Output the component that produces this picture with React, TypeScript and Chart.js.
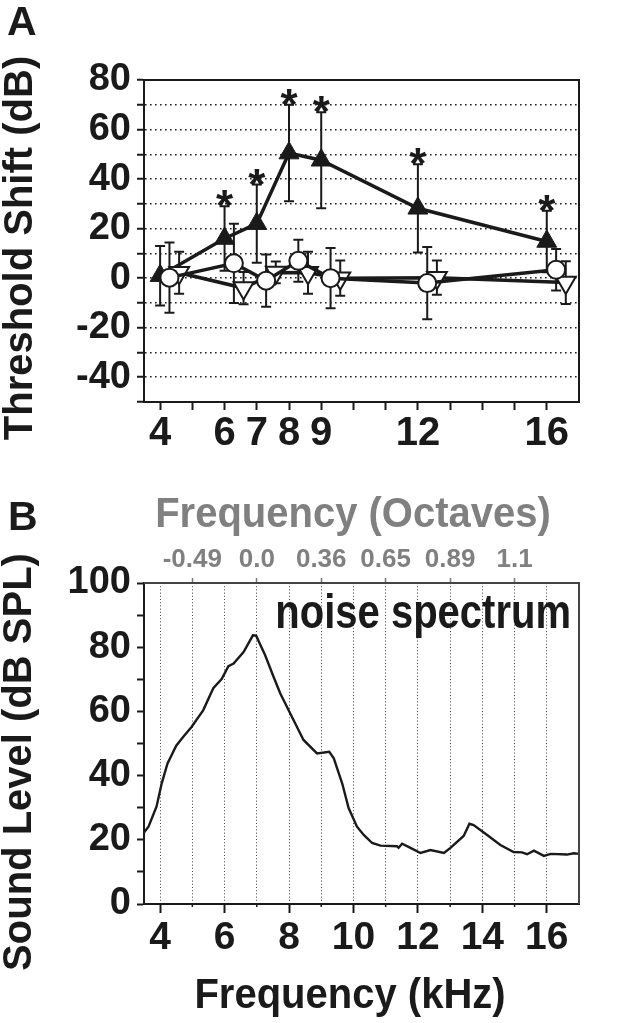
import React, { useEffect, useRef } from 'react';
import { Chart, registerables } from 'chart.js';

Chart.register(...registerables);

const FONT = '"Liberation Sans", Arial, Helvetica, sans-serif';
const INK = '#1a1a1a';
const GRAY = '#808080';

// ---------- Panel A: threshold shift ----------
const freqsA = [4, 6, 7, 8, 9, 12, 16];
const xTicksA = [4, 5, 6, 7, 8, 9, 10, 11, 12, 13, 14, 15, 16];
const xLabelsA = [4, 6, 7, 8, 9, 12, 16];
const yTicksA = [-50, -40, -30, -20, -10, 0, 10, 20, 30, 40, 50, 60, 70, 80];
const yLabelsA = [-40, -20, 0, 20, 40, 60, 80];

const shiftFilled = [1, 16, 22, 50.5, 47.6, 28.2, 14.8];
const errFilled = [12, 13, 15.8, 19.5, 19.4, 17.8, 12.4];
const significant = [false, true, true, true, true, true, true];

const shiftCircle = [0.2, 6, -1, 7, 0, -2, 3.4];
const errCircle = [14.2, 16, 10.5, 8.5, 12.2, 14.6, 8.4];

const shiftInv = [2.2, -4, 2.3, 2.2, 0, 0.2, -1.8];
const errInv = [8.5, 6.5, 4.4, 8.5, 7.1, 6.9, 8.6];

const offsetCircle = 0.29; // kHz display offset of open circles
const offsetInv = 0.59; // kHz display offset of open inverted triangles

// ---------- Panel B: noise spectrum ----------
const noiseFreq = [3.5, 3.64, 3.89, 4.05, 4.23, 4.5, 4.72, 4.98, 5.34, 5.65, 5.91, 6.12, 6.28, 6.59, 6.88, 6.98, 7.26, 7.52, 7.73, 8.14, 8.45, 8.87, 9.25, 9.39, 9.65, 9.85, 10.11, 10.32, 10.58, 10.84, 11.35, 11.4, 11.51, 11.77, 12.08, 12.39, 12.81, 13.01, 13.42, 13.6, 13.73, 14.15, 14.56, 14.97, 15.23, 15.39, 15.6, 15.91, 16.12, 16.63, 16.84, 17.0];
const noiseLevel = [22.3, 24.1, 30.4, 37.6, 43.8, 49.3, 52.1, 55.2, 60.4, 67.2, 70.1, 74.1, 74.9, 78.5, 83.7, 83.6, 77.5, 70.8, 65.6, 57.3, 51.1, 46.9, 47.4, 45.4, 37.6, 29.9, 24.1, 21.5, 19.0, 18.2, 18.0, 17.5, 18.8, 17.5, 15.9, 16.8, 15.9, 17.5, 21.2, 25.0, 24.6, 21.5, 18.4, 16.2, 16.1, 15.5, 16.6, 15.0, 15.6, 15.4, 15.8, 15.6];
const xTicksB = [4, 5, 6, 7, 8, 9, 10, 11, 12, 13, 14, 15, 16];
const xLabelsB = [4, 6, 8, 10, 12, 14, 16];
const octaveFreqs = [5, 7, 9, 11, 13, 15];
const octaveLabels = ['-0.49', '0.0', '0.36', '0.65', '0.89', '1.1'];
const yTicksB = [0, 10, 20, 30, 40, 50, 60, 70, 80, 90, 100];
const yLabelsB = [0, 20, 40, 60, 80, 100];

type TextItem = {
  text: string; x: number; y: number; size: number; color: string;
  align: CanvasTextAlign; baseline: CanvasTextBaseline; rotate?: number; sy?: number;
};

function textPlugin(id: string, items: TextItem[]) {
  return {
    id,
    afterDraw(chart: any) {
      const ctx = chart.ctx as CanvasRenderingContext2D;
      items.forEach((t) => {
        ctx.save();
        ctx.font = `bold ${t.size}px ${FONT}`;
        ctx.fillStyle = t.color;
        ctx.textAlign = t.align;
        ctx.textBaseline = t.baseline;
        ctx.translate(t.x, t.y);
        if (t.rotate) ctx.rotate(t.rotate);
        if (t.sy) ctx.scale(1, t.sy);
        ctx.fillText(t.text, 0, 0);
        ctx.restore();
      });
    },
  };
}

function boxPlugin(id: string, color: string) {
  return {
    id,
    afterDraw(chart: any) {
      const { ctx, chartArea } = chart;
      ctx.save();
      ctx.strokeStyle = color;
      ctx.lineWidth = 2;
      ctx.beginPath();
      ctx.moveTo(chartArea.left, chartArea.top);
      ctx.lineTo(chartArea.right, chartArea.top);
      ctx.lineTo(chartArea.right, chartArea.bottom);
      ctx.stroke();
      ctx.restore();
    },
  };
}

const setTicks = (vals: number[]) => (axis: any) => {
  axis.ticks = vals.map((v) => ({ value: v }));
};

function makeConfigA(): any {
  const errSeries = [
    { off: 0, y: shiftFilled, err: errFilled },
    { off: offsetInv, y: shiftInv, err: errInv },
    { off: offsetCircle, y: shiftCircle, err: errCircle },
  ];
  const errorBars = {
    id: 'errorBarsA',
    beforeDatasetsDraw(chart: any) {
      const { ctx } = chart;
      const xs = chart.scales.x;
      const ys = chart.scales.y;
      const cap = 5;
      ctx.save();
      ctx.strokeStyle = INK;
      ctx.lineWidth = 2;
      errSeries.forEach((s) => {
        freqsA.forEach((f, i) => {
          const px = xs.getPixelForValue(f + s.off);
          const top = ys.getPixelForValue(s.y[i] + s.err[i]);
          const bot = ys.getPixelForValue(s.y[i] - s.err[i]);
          ctx.beginPath();
          ctx.moveTo(px, top);
          ctx.lineTo(px, bot);
          ctx.moveTo(px - cap, top);
          ctx.lineTo(px + cap, top);
          ctx.moveTo(px - cap, bot);
          ctx.lineTo(px + cap, bot);
          ctx.stroke();
        });
      });
      ctx.restore();
    },
  };
  const asterisks = {
    id: 'asterisksA',
    afterDatasetsDraw(chart: any) {
      const { ctx } = chart;
      const xs = chart.scales.x;
      const ys = chart.scales.y;
      ctx.save();
      ctx.font = `bold 44px ${FONT}`;
      ctx.fillStyle = INK;
      ctx.textAlign = 'center';
      ctx.textBaseline = 'alphabetic';
      freqsA.forEach((f, i) => {
        if (!significant[i]) return;
        const px = xs.getPixelForValue(f);
        const top = ys.getPixelForValue(shiftFilled[i] + errFilled[i]);
        ctx.fillText('*', px, top - 10 + 25);
      });
      ctx.restore();
    },
  };
  const texts = textPlugin('textsA', [
    { text: 'A', x: 7, y: 35, size: 41, color: INK, align: 'left', baseline: 'alphabetic' },
    { text: 'Threshold Shift (dB)', x: 21, y: 248, size: 40, color: INK, align: 'center', baseline: 'middle', rotate: -Math.PI / 2 },
  ]);

  return {
    type: 'line',
    data: {
      datasets: [
        {
          label: 'open circles',
          data: freqsA.map((f, i) => ({ x: f + offsetCircle, y: shiftCircle[i] })),
          borderColor: INK, borderWidth: 3.5, tension: 0, fill: false,
          pointStyle: 'circle', pointRadius: 9, pointBackgroundColor: '#ffffff',
          pointBorderColor: INK, pointBorderWidth: 2, clip: false,
        },
        {
          label: 'open inverted triangles',
          data: freqsA.map((f, i) => ({ x: f + offsetInv, y: shiftInv[i] })),
          borderColor: INK, borderWidth: 3.5, tension: 0, fill: false,
          pointStyle: 'triangle', pointRotation: 180, pointRadius: 11.5,
          pointBackgroundColor: '#ffffff', pointBorderColor: INK, pointBorderWidth: 2, clip: false,
        },
        {
          label: 'filled triangles',
          data: freqsA.map((f, i) => ({ x: f, y: shiftFilled[i] })),
          borderColor: INK, borderWidth: 3.5, tension: 0, fill: false,
          pointStyle: 'triangle', pointRadius: 11.5, pointBackgroundColor: INK,
          pointBorderColor: INK, pointBorderWidth: 1, clip: false,
        },
      ],
    },
    options: {
      animation: false,
      responsive: false,
      maintainAspectRatio: false,
      layout: { padding: { top: 80, right: 51, left: 0, bottom: 0 } },
      plugins: { legend: { display: false }, tooltip: { enabled: false }, title: { display: false } },
      scales: {
        x: {
          type: 'linear', min: 3.5, max: 17,
          afterBuildTicks: setTicks(xTicksA),
          afterFit: (axis: any) => { axis.height = 68; },
          ticks: {
            autoSkip: false, maxRotation: 0, minRotation: 0, padding: 0,
            color: INK, font: { family: FONT, size: 40, weight: 'bold' },
            callback: (v: number) => (xLabelsA.includes(v) ? String(v) : ''),
          },
          grid: { drawOnChartArea: false, drawTicks: true, tickLength: 8, tickWidth: 2, tickColor: INK },
          border: { color: INK, width: 2 },
        },
        y: {
          type: 'linear', min: -50, max: 80,
          afterBuildTicks: setTicks(yTicksA),
          afterFit: (axis: any) => { axis.width = 144; },
          ticks: {
            autoSkip: false, padding: 6, color: INK,
            font: { family: FONT, size: 38, weight: 'bold' },
            callback: (v: number) => (yLabelsA.includes(v) ? String(v) : ''),
          },
          grid: {
            drawOnChartArea: true,
            color: (c: any) => (c.tick && (c.tick.value === -50 || c.tick.value === 80) ? 'rgba(0,0,0,0)' : '#222222'),
            lineWidth: 1.5,
            tickLength: 7, tickWidth: 2, tickColor: INK, tickBorderDash: [],
          },
          border: { color: INK, width: 2, dash: [1.6, 3.4] },
        },
      },
    },
    plugins: [errorBars, asterisks, texts, boxPlugin('boxA', INK)],
  };
}

function makeConfigB(): any {
  const minorTicks = {
    id: 'minorTicksB',
    afterDraw(chart: any) {
      const { ctx } = chart;
      const xs = chart.scales.x;
      const bottom = chart.chartArea.bottom;
      ctx.save();
      ctx.strokeStyle = INK;
      ctx.lineWidth = 1.5;
      xTicksB.forEach((v) => {
        if (xLabelsB.includes(v)) return;
        const px = xs.getPixelForValue(v);
        ctx.beginPath();
        ctx.moveTo(px, bottom);
        ctx.lineTo(px, bottom + 3);
        ctx.stroke();
      });
      ctx.restore();
    },
  };
  const texts = textPlugin('textsB', [
    { text: 'B', x: 8, y: 60, size: 41, color: INK, align: 'left', baseline: 'alphabetic' },
    { text: 'Frequency (Octaves)', x: 353, y: 56.7, size: 40, color: GRAY, align: 'center', baseline: 'alphabetic', sy: 1.05 },
    { text: 'Sound Level (dB SPL)', x: 20, y: 292, size: 40, color: INK, align: 'center', baseline: 'middle', rotate: -Math.PI / 2 },
    { text: 'noise spectrum', x: 571, y: 158.3, size: 40, color: INK, align: 'right', baseline: 'alphabetic', sy: 1.18 },
    { text: 'Frequency (kHz)', x: 350, y: 538, size: 40, color: INK, align: 'center', baseline: 'alphabetic', sy: 1.05 },
  ]);

  return {
    type: 'line',
    data: {
      datasets: [
        {
          label: 'noise spectrum',
          data: noiseFreq.map((f, i) => ({ x: f, y: noiseLevel[i] })),
          borderColor: INK, borderWidth: 2.4, tension: 0, fill: false, pointRadius: 0,
          xAxisID: 'x', yAxisID: 'y',
        },
      ],
    },
    options: {
      animation: false,
      responsive: false,
      maintainAspectRatio: false,
      layout: { padding: { top: 0, right: 51, left: 0, bottom: 0 } },
      plugins: { legend: { display: false }, tooltip: { enabled: false }, title: { display: false } },
      scales: {
        x: {
          type: 'linear', position: 'bottom', min: 3.5, max: 17,
          afterBuildTicks: setTicks(xTicksB),
          afterFit: (axis: any) => { axis.height = 119; },
          ticks: {
            autoSkip: false, maxRotation: 0, minRotation: 0, padding: 2,
            color: INK, font: { family: FONT, size: 39, weight: 'bold' },
            callback: (v: number) => (xLabelsB.includes(v) ? String(v) : ''),
          },
          grid: {
            drawOnChartArea: true, color: '#444444', lineWidth: 1,
            tickLength: 9, tickWidth: 2,
            tickColor: (c: any) => (c.tick && xLabelsB.includes(c.tick.value) ? INK : 'rgba(0,0,0,0)'),
            tickBorderDash: [],
          },
          border: { color: INK, width: 2, dash: [1, 2.2] },
        },
        x2: {
          type: 'linear', axis: 'x', position: 'top', min: 3.5, max: 17,
          afterBuildTicks: setTicks(octaveFreqs),
          afterFit: (axis: any) => { axis.height = 113; },
          ticks: {
            autoSkip: false, maxRotation: 0, minRotation: 0, padding: 3,
            color: GRAY, font: { family: FONT, size: 26, weight: 'bold' },
            callback: (v: number) => {
              const i = octaveFreqs.indexOf(v);
              return i >= 0 ? octaveLabels[i] : '';
            },
          },
          grid: { drawOnChartArea: false, tickLength: 5, tickWidth: 1.5, tickColor: '#777777' },
          border: { color: '#444444', width: 2 },
        },
        y: {
          type: 'linear', min: 0, max: 100,
          afterBuildTicks: setTicks(yTicksB),
          afterFit: (axis: any) => { axis.width = 144; },
          ticks: {
            autoSkip: false, padding: 6, color: INK,
            font: { family: FONT, size: 38, weight: 'bold' },
            callback: (v: number) => (yLabelsB.includes(v) ? String(v) : ''),
          },
          grid: { drawOnChartArea: false, tickLength: 7, tickWidth: 2, tickColor: INK },
          border: { color: INK, width: 2 },
        },
      },
    },
    plugins: [minorTicks, texts, boxPlugin('boxB', '#444444')],
  };
}

function ChartCanvas({ make, width, height, top }: { make: () => any; width: number; height: number; top: number }) {
  const ref = useRef<HTMLCanvasElement | null>(null);
  useEffect(() => {
    if (!ref.current) return;
    const chart = new Chart(ref.current, make());
    return () => chart.destroy();
  }, [make]);
  return (
    <canvas
      ref={ref}
      width={width}
      height={height}
      style={{ position: 'absolute', left: 0, top, width, height, display: 'block' }}
    />
  );
}

export default function App() {
  return (
    <div style={{ position: 'absolute', left: 0, top: 0, width: 630, height: 1023, background: '#ffffff', overflow: 'hidden' }}>
      <ChartCanvas make={makeConfigA} width={630} height={470} top={0} />
      <ChartCanvas make={makeConfigB} width={630} height={553} top={470} />
    </div>
  );
}
